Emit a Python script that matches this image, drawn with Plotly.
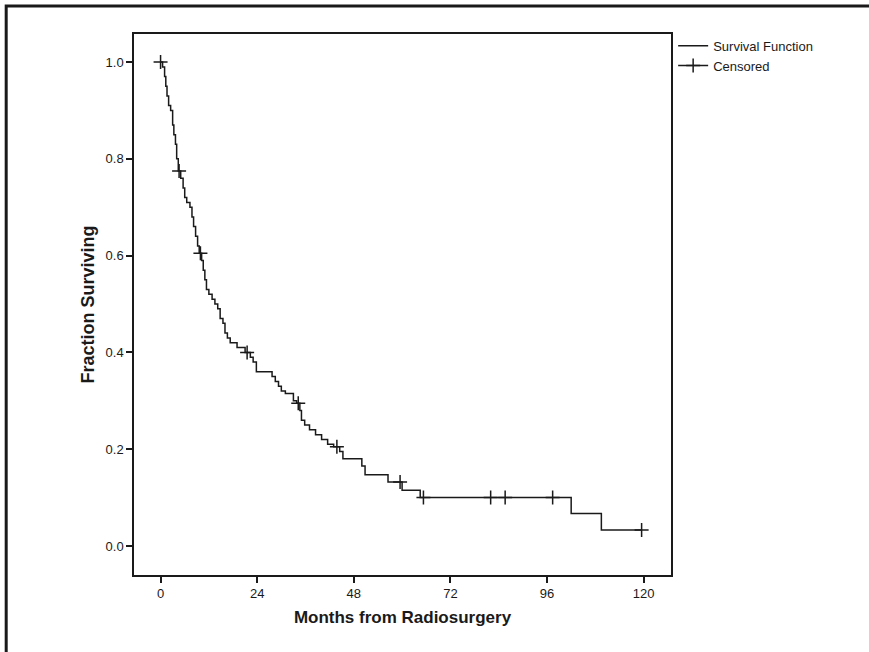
import plotly.graph_objects as go

# Kaplan-Meier step data (months, survival after each event)
event_times = [0.5, 1.0, 1.3, 1.6, 2.0, 2.5, 3.0, 3.3, 3.7, 4.0, 4.4,
               5.0, 5.6, 6.0, 6.5, 7.3, 7.8, 8.2, 8.7, 9.2, 9.6,
               10.2, 10.6, 11.0, 11.4, 12.0, 12.8, 13.5, 14.2, 14.8, 15.5,
               16.0, 16.6, 17.3, 19.0, 21.0, 22.3, 23.0, 23.8,
               27.7, 28.5, 29.3, 30.0, 31.0, 33.0, 33.8, 34.6, 35.0, 35.8,
               37.0, 38.5, 40.0, 41.5, 43.0, 44.5, 45.3, 50.0, 50.8,
               56.5, 60.0, 64.5, 102.0, 109.5]
survival = [0.99, 0.97, 0.95, 0.93, 0.91, 0.90, 0.87, 0.85, 0.83, 0.80, 0.775,
            0.76, 0.74, 0.72, 0.71, 0.70, 0.68, 0.66, 0.64, 0.62, 0.605,
            0.59, 0.57, 0.55, 0.53, 0.52, 0.51, 0.50, 0.49, 0.47, 0.46,
            0.44, 0.43, 0.42, 0.41, 0.40, 0.39, 0.38, 0.36,
            0.35, 0.34, 0.33, 0.32, 0.315, 0.30, 0.295, 0.28, 0.26, 0.25,
            0.24, 0.23, 0.22, 0.21, 0.205, 0.195, 0.18, 0.165, 0.147,
            0.132, 0.115, 0.10, 0.067, 0.033]
censor_times = [0.0, 4.6, 9.9, 21.5, 34.2, 43.8, 59.5, 65.3, 82.0, 85.6, 97.4, 119.5]
x_ticks = [0, 24, 48, 72, 96, 120]
y_ticks = [0.0, 0.2, 0.4, 0.6, 0.8, 1.0]


def surv_at(t):
    s = 1.0
    for et, sv in zip(event_times, survival):
        if et <= t:
            s = sv
    return s


step_x = [0.0] + event_times + [censor_times[-1]]
step_y = [1.0] + survival + [survival[-1]]
censor_y = [surv_at(t) for t in censor_times]

FONT = "Liberation Sans, Arial, sans-serif"

fig = go.Figure()
fig.add_trace(go.Scatter(x=step_x, y=step_y, mode="lines", line_shape="hv",
                         line=dict(color="#1a1a1a", width=1.5),
                         name="Survival Function"))
fig.add_trace(go.Scatter(x=censor_times, y=censor_y, mode="markers",
                         marker=dict(symbol="cross-thin", size=10,
                                     line=dict(color="#1a1a1a", width=1.5)),
                         showlegend=False, name="Censored"))
fig.add_trace(go.Scatter(x=[None], y=[None], mode="lines+markers",
                         line=dict(color="#1a1a1a", width=1.5),
                         marker=dict(symbol="cross-thin", size=10,
                                     line=dict(color="#1a1a1a", width=1.5)),
                         name="Censored"))

fig.update_layout(
    width=869, height=652,
    margin=dict(l=134, r=198, t=34, b=77),
    paper_bgcolor="white", plot_bgcolor="white",
    font=dict(family=FONT, size=13, color="#1a1a1a"),
    legend=dict(x=1.004, y=1.006, xanchor="left", yanchor="top",
                font=dict(size=13), tracegroupgap=0, itemwidth=30,
                bgcolor="rgba(0,0,0,0)"),
    xaxis=dict(range=[-6.6, 126.8], tickvals=x_ticks, ticks="outside",
               ticklen=6, tickwidth=1.5, tickcolor="#1a1a1a",
               showline=True, linecolor="#1a1a1a", linewidth=1.5, mirror=True,
               showgrid=False, zeroline=False, tickfont=dict(size=13),
               title=dict(text="<b>Months from Radiosurgery</b>",
                          font=dict(size=17), standoff=11)),
    yaxis=dict(range=[-0.06, 1.058], tickvals=y_ticks, tickformat=".1f",
               ticks="outside", ticklen=6, tickwidth=1.5, tickcolor="#1a1a1a",
               showline=True, linecolor="#1a1a1a", linewidth=1.5, mirror=True,
               showgrid=False, zeroline=False, tickfont=dict(size=13),
               title=dict(text="<b>Fraction Surviving</b>",
                          font=dict(size=18), standoff=6)),
)

# outer frame
fig.add_shape(type="rect", xref="paper", yref="paper",
              x0=-0.238, x1=1.6, y0=-0.3, y1=1.0518,
              line=dict(color="#1a1a1a", width=3), layer="below")

fig.write_html("out.html")
